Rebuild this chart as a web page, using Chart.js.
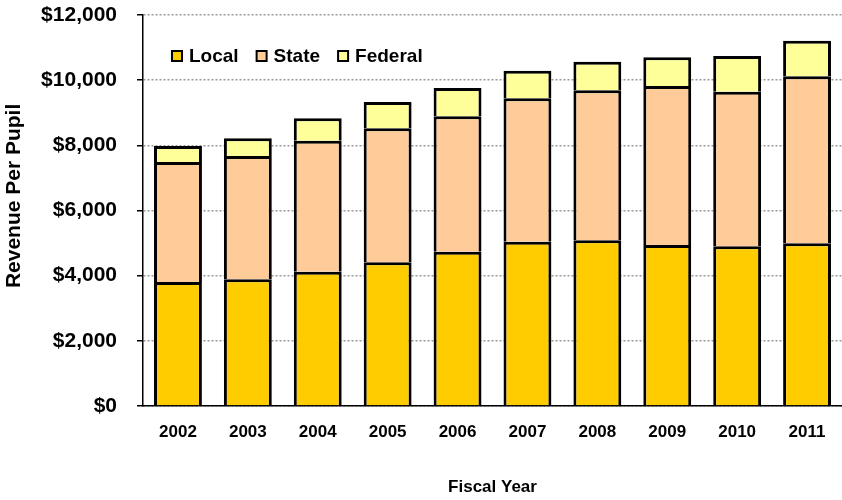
<!DOCTYPE html>
<html lang="en">
<head>
  <meta charset="UTF-8">
  <title>Revenue Per Pupil</title>
  <script src="https://cdn.jsdelivr.net/npm/chart.js"></script>
  <style>
    html, body { margin: 0; padding: 0; background: #fff; }
    #wrap { width: 842px; height: 500px; }
  </style>
</head>
<body>
  <div id="wrap"><canvas id="chart"></canvas></div>

  <script>
    const years = ["2002", "2003", "2004", "2005", "2006", "2007", "2008", "2009", "2010", "2011"];
    const local = [3806, 3890, 4123, 4410, 4737, 5044, 5085, 4942, 4901, 4993];
    const state = [3683, 3783, 4020, 4113, 4154, 4399, 4604, 4880, 4747, 5126];
    const federal = [491, 543, 687, 808, 869, 849, 880, 880, 1095, 1094];

    const FONT = "Arial, 'Liberation Sans', sans-serif";

    function series(label, data, color) {
      return {
        label: label,
        data: data,
        backgroundColor: color,
        borderColor: "#000",
        borderWidth: 3,
        borderSkipped: "start",
        barPercentage: 0.685,
        categoryPercentage: 1.0
      };
    }

    // legend drawn inside the plot, in one row, like the original
    const insideLegend = {
      id: "insideLegend",
      afterDraw(chart) {
        const ctx = chart.ctx;
        const area = chart.chartArea;
        let x = area.left + 29;
        const y = 56;
        ctx.save();
        ctx.font = "bold 19px " + FONT;
        ctx.textBaseline = "middle";
        chart.data.datasets.forEach(function (ds) {
          ctx.fillStyle = ds.backgroundColor;
          ctx.fillRect(x, y - 5, 10, 10);
          ctx.strokeStyle = "#000";
          ctx.lineWidth = 2;
          ctx.strokeRect(x, y - 5, 10, 10);
          ctx.fillStyle = "#000";
          ctx.fillText(ds.label, x + 17, y + 1);
          x += 17 + ctx.measureText(ds.label).width + 18;
        });
        ctx.restore();
      }
    };

    new Chart(document.getElementById("chart"), {
      type: "bar",
      data: {
        labels: years,
        datasets: [
          series("Local", local, "#FFCC00"),
          series("State", state, "#FFCC99"),
          series("Federal", federal, "#FFFF99")
        ]
      },
      plugins: [insideLegend],
      options: {
        responsive: true,
        maintainAspectRatio: false,
        animation: false,
        layout: { padding: { top: 15, right: 0, left: 0, bottom: 0 } },
        plugins: {
          tooltip: { enabled: false },
          legend: { display: false }
        },
        scales: {
          x: {
            stacked: true,
            afterFit: function (s) { s.height = 94; },
            grid: { display: false, drawTicks: false },
            border: { color: "#000", width: 1.5 },
            ticks: {
              color: "#000",
              font: { family: FONT, size: 17, weight: "bold" },
              padding: 16
            },
            title: {
              display: true,
              text: "Fiscal Year",
              color: "#000",
              font: { family: FONT, size: 17, weight: "bold" },
              padding: { top: 30, bottom: 2 }
            }
          },
          y: {
            stacked: true,
            min: 0,
            max: 12000,
            afterFit: function (s) { s.width = 143; s.paddingTop = 0; s.paddingBottom = 0; },
            grid: {
              color: "#999",
              lineWidth: 1.5,
              tickColor: "#000",
              tickLength: 6,
              tickBorderDash: []
            },
            border: { color: "#000", width: 1.5, dash: [2, 2] },
            ticks: {
              stepSize: 2000,
              color: "#000",
              font: { family: FONT, size: 21, weight: "bold" },
              padding: 20,
              callback: function (v) { return "$" + v.toLocaleString("en-US"); }
            },
            title: {
              display: true,
              text: "     Revenue Per Pupil",
              color: "#000",
              font: { family: FONT, size: 21, weight: "bold" },
              padding: { top: 2, bottom: 10 }
            }
          }
        }
      }
    });
  </script>
</body>
</html>
